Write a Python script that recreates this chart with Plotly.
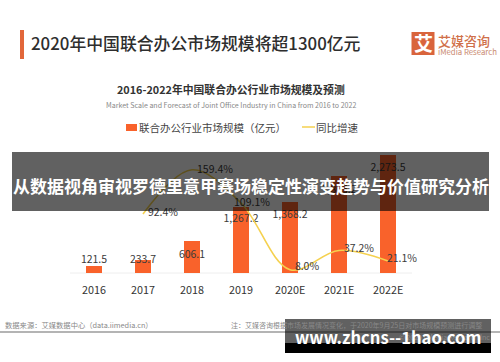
import plotly.graph_objects as go

# ---- data ----
categories = ["2016", "2017", "2018", "2019", "2020E", "2021E", "2022E"]
market_size = [121.5, 233.7, 606.1, 1267.2, 1368.2, 1873.2, 2273.5]
market_labels = ["121.5", "233.7", "606.1", "1,267.2", "1,368.2", "1,873.2", "2,273.5"]
growth = [None, 92.4, 159.4, 109.1, 8.0, 37.2, 21.1]
growth_labels = ["", "92.4%", "159.4%", "109.1%", "8.0%", "37.2%", "21.1%"]
# label offsets from their marks, in pixels (right, up)
market_dx = [0, 0, 0, 0, 0, 0, 0]
market_dy = [6.2, 0.4, -13.7, -12.5, -14, -14.5, -13.8]
growth_dx = [0, 20, 23, 11, 17, 20, 14]
growth_dy = [0, 1, -1, 0, 2, 1.5, 2]

W, H = 500, 362
FONT = "Noto Sans CJK SC"
ORANGE = "#f9622b"
GOLD = "#f5d14f"

x0_px, step_px = 94, 49
base_px = 272.5
bar_scale = 117.5 / 2273.5
rate_zero_px, rate_scale = 275.0, 0.66
idx = list(range(len(categories)))

fig = go.Figure()
fig.add_bar(x=idx, y=market_size, width=16 / step_px, marker=dict(color=ORANGE, line_width=0), yaxis="y")
fig.add_scatter(x=idx, y=growth, mode="lines", yaxis="y2", connectgaps=False,
                line=dict(color=GOLD, width=1.6, shape="spline", smoothing=1.0))
fig.add_scatter(x=[i + d / step_px for i, d in zip(idx, market_dx)],
                y=[v + d / bar_scale for v, d in zip(market_size, market_dy)],
                text=market_labels, mode="text", textposition="middle center", yaxis="y",
                textfont=dict(family=FONT, size=10.5, color="#3a3a3a"))
fig.add_scatter(x=[i + d / step_px for i, d in zip(idx[1:], growth_dx[1:])],
                y=[v + d / rate_scale for v, d in zip(growth[1:], growth_dy[1:])],
                text=growth_labels[1:], mode="text", textposition="middle center", yaxis="y2",
                textfont=dict(family=FONT, size=10.5, color="#3a3a3a"))

def px(v):
    return v / W
def py(v):
    return 1 - v / H

def rect(x0, y0, x1, y1, color, layer="above"):
    fig.add_shape(type="rect", xref="paper", yref="paper", x0=px(x0), x1=px(x1), y0=py(y0), y1=py(y1),
                  fillcolor=color, line_width=0, layer=layer)

def txt(x, y, s, size, color, anchor="left", weight=400):
    fig.add_annotation(xref="paper", yref="paper", x=px(x), y=py(y), text=s, showarrow=False,
                       xanchor=anchor, yanchor="middle",
                       font=dict(family=FONT, size=size, color=color, weight=weight),
                       borderpad=0, borderwidth=0)

# header
rect(20, 30, 24, 59, "#e2673a", "below")
txt(31, 43, "2020年中国联合办公市场规模将超1300亿元", 16.85, "#2e2e2e", weight=500)
# logo
fig.add_shape(type="rect", xref="paper", yref="paper", x0=px(411.5), x1=px(434.5), y0=py(32), y1=py(55),
              fillcolor="#d9643c", line_width=0, layer="below")
txt(423, 43, "艾", 19, "#ffffff", "center", 700)
txt(438, 41, "艾媒咨询", 13, "#d0704a", weight=500)
txt(438, 51, "iMedia Research", 7.8, "#c98a70")
# chart titles
txt(230.5, 89, "2016-2022年中国联合办公行业市场规模及预测", 10.8, "#333333", "center", 700)
txt(231, 105, "Market Scale and Forecast of Joint Office Industry in China from 2016 to 2022", 7.05, "#888888", "center")
# legend
rect(126, 124, 137, 131, ORANGE, "below")
txt(139, 127, "联合办公行业市场规模（亿元）", 10.5, "#444444")
fig.add_shape(type="line", xref="paper", yref="paper", x0=px(302), x1=px(315), y0=py(127), y1=py(127),
              line=dict(color=GOLD, width=1.5), layer="below")
txt(316, 127, "同比增速", 10.5, "#444444")
# axis base line
fig.add_shape(type="line", xref="paper", yref="paper", x0=px(70), x1=px(412), y0=py(273), y1=py(273),
              line=dict(color="#eeeeee", width=1), layer="below")
# footer
txt(5, 325, "数据来源：艾媒数据中心（data.iimedia.cn）", 7.3, "#888888")
txt(231, 325, "注：艾媒咨询根据市场发展情况变化，于2020年9月25日对市场规模预测进行调整", 7, "#888888")
rect(0, 331, 500, 333, "#b4b4b4", "below")
txt(490, 337, "© 2020 iiMedia Research Inc", 7, "#888888", "right")

# overlay band and watermark
rect(12, 152, 489, 211, "rgba(0,0,0,0.62)")
rect(285, 319, 491, 343, "rgba(0,0,0,0.62)")
rect(285, 343, 491, 353, "#000000")
txt(250.5, 185, "从数据视角审视罗德里意甲赛场稳定性演变趋势与价值研究分析", 17, "#ffffff", "center", 700)
txt(387.5, 337, "www.zhcns--1hao.com", 16.6, "#ffffff", "center", 700)

fig.update_layout(
    width=W, height=H, autosize=False, margin=dict(l=0, r=0, t=0, b=0),
    paper_bgcolor="#ffffff", plot_bgcolor="#ffffff", showlegend=False, bargap=0,
    xaxis=dict(range=[-x0_px / step_px, (W - x0_px) / step_px], tickmode="array", tickvals=idx,
               ticktext=categories, showgrid=False, zeroline=False, showline=False, ticks="",
               fixedrange=True, showticklabels=False),
    yaxis=dict(range=[-(H - base_px) / bar_scale, base_px / bar_scale], visible=False, fixedrange=True),
    yaxis2=dict(range=[-(H - rate_zero_px) / rate_scale, rate_zero_px / rate_scale], overlaying="y",
                visible=False, fixedrange=True),
)
# category labels below the bars
for i, c in zip(idx, categories):
    fig.add_annotation(x=i, xref="x", y=py(289), yref="paper", text=c, showarrow=False, yanchor="middle",
                       font=dict(family=FONT, size=10.8, color="#333333"))

fig.write_html("out.html", config={"displayModeBar": False},
               post_script="document.body.style.margin='0';document.body.style.overflow='hidden';")
